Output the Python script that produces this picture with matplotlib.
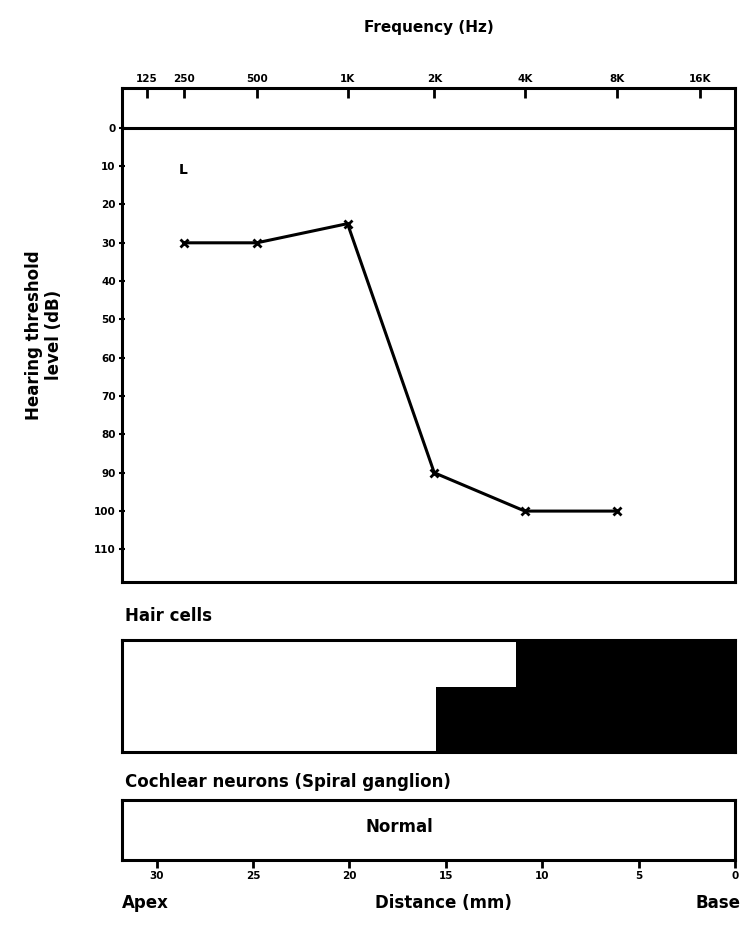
import numpy as np
import matplotlib
matplotlib.use("Agg")
import matplotlib.pyplot as plt

# frequency ticks and where they sit along the cochlea (mm from base)
freq_labels = ["125", "250", "500", "1K", "2K", "4K", "8K", "16K"]
freq_pos_mm = [30.5, 28.6, 24.8, 20.1, 15.6, 10.9, 6.1, 1.8]

# audiogram (left ear)
test_pos_mm = [28.6, 24.8, 20.1, 15.6, 10.9, 6.1]
threshold_db = [30, 30, 25, 90, 100, 100]

db_ticks = [0, 10, 20, 30, 40, 50, 60, 70, 80, 90, 100, 110]
dist_ticks = [30, 25, 20, 15, 10, 5, 0]

# hair cell loss along the cochlea: start, end (mm), fraction lost
hair_start = [15.5, 11.35]
hair_end = [11.35, 0.0]
hair_frac = [0.58, 1.0]

xlim = (31.8, 0.0)
lw = 2.2
bold = dict(fontweight="bold")

fig = plt.figure(figsize=(7.42, 9.26), dpi=100)

## audiogram
ax = fig.add_axes([0.1644, 0.3715, 0.8261, 0.5335])
ax.plot(test_pos_mm, threshold_db, color="black", lw=2.2, marker="x",
        markersize=6, markeredgewidth=2)
ax.axhline(0, color="black", lw=lw)
ax.set_xlim(*xlim)
ax.set_ylim(118.5, -10.4)
ax.xaxis.tick_top()
ax.set_xticks(freq_pos_mm)
ax.set_xticklabels(freq_labels, fontsize=7.5, **bold)
ax.tick_params(axis="x", direction="in", length=7, width=2, pad=3)
ax.set_yticks(db_ticks)
ax.set_yticklabels([str(v) for v in db_ticks], fontsize=7.5, **bold)
ax.tick_params(axis="y", direction="inout", length=5, width=1.5, pad=2)
ax.set_xlabel("Frequency (Hz)", fontsize=11, labelpad=30, **bold)
ax.xaxis.set_label_position("top")
ax.set_ylabel("Hearing threshold\nlevel (dB)", fontsize=12, labelpad=22, **bold)
ax.text(28.6, 11, "L", fontsize=10, ha="center", va="center", **bold)
for s in ax.spines.values():
    s.set_linewidth(lw)

## hair cells
axh = fig.add_axes([0.1644, 0.1879, 0.8261, 0.1210])
for a, b, f in zip(hair_start, hair_end, hair_frac):
    axh.fill_between([a, b], 0, f, color="black", lw=0)
axh.set_xlim(*xlim)
axh.set_ylim(0, 1)
axh.set_xticks([])
axh.set_yticks([])
for s in axh.spines.values():
    s.set_linewidth(lw)
fig.text(0.168, 0.3345, "Hair cells", fontsize=12, ha="left", va="center", **bold)

## cochlear neurons
axn = fig.add_axes([0.1644, 0.0713, 0.8261, 0.0648])
axn.set_xlim(*xlim)
axn.set_ylim(0, 1)
axn.set_yticks([])
axn.set_xticks(dist_ticks)
axn.set_xticklabels([str(v) for v in dist_ticks], fontsize=7.5, **bold)
axn.tick_params(axis="x", direction="out", length=6, width=2, pad=2)
axn.text(0.5 * (xlim[0] + xlim[1]) + 1.5, 0.55, "Normal", fontsize=12,
         ha="center", va="center", **bold)
for s in axn.spines.values():
    s.set_linewidth(lw)
fig.text(0.168, 0.156, "Cochlear neurons (Spiral ganglion)", fontsize=12,
         ha="left", va="center", **bold)

fig.text(0.196, 0.015, "Apex", fontsize=12, ha="center", va="bottom", **bold)
fig.text(0.597, 0.015, "Distance (mm)", fontsize=12, ha="center", va="bottom", **bold)
fig.text(0.998, 0.015, "Base", fontsize=12, ha="right", va="bottom", **bold)

fig.savefig("out.png", dpi=100)
